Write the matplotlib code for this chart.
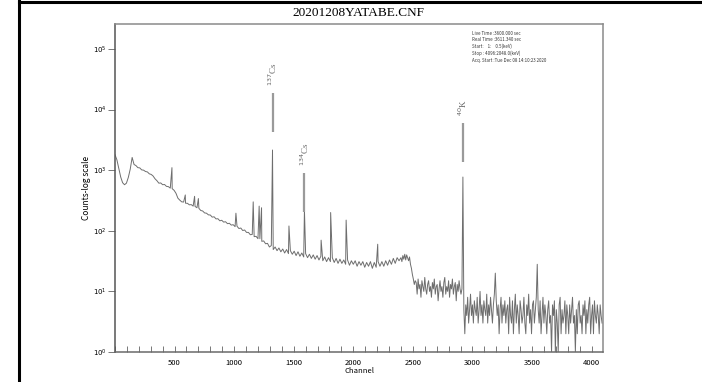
import numpy as np
import matplotlib
matplotlib.use('Agg')
import matplotlib.pyplot as plt
from matplotlib.lines import Line2D
from matplotlib.ticker import FixedLocator, MultipleLocator

plt.rcParams['font.family'] = ['Noto Sans CJK KR', 'DejaVu Sans']

# low channels, 16 channel steps (0 - 2384)
ch_low = np.arange(0, 2400, 16)
counts_low = [
    1800, 1480, 1060, 770, 620, 575, 610, 760, 1040, 1620,
    1240, 1190, 1100, 1090, 1010, 1000, 950, 935, 870, 850,
    800, 720, 670, 610, 615, 575, 580, 540, 535, 505,
    495, 465, 415, 345, 320, 300, 298, 285, 284, 268,
    270, 255, 252, 240, 235, 216, 212, 197, 195, 183,
    182, 168, 170, 157, 158, 146, 149, 139, 141, 131,
    133, 124, 126, 117, 119, 109, 111, 101, 103, 94,
    94, 86, 87, 80, 81, 74, 74, 67, 68, 61,
    62, 54, 57, 49, 54, 47, 52, 45, 50, 43,
    49, 42, 47, 41, 46, 39, 45, 38, 43, 37,
    42, 36, 41, 35, 40, 34, 39, 33, 38, 32,
    37, 31, 36, 31, 36, 30, 35, 29, 34, 29,
    33, 28, 33, 27, 32, 28, 32, 26, 31, 27,
    31, 25, 30, 26, 31, 24, 30, 25, 31, 26,
    31, 26, 32, 27, 33, 28, 35, 29, 36, 32,
]

# photopeaks in the low channel range
peak_ch = [478, 590, 668, 700, 1015, 1160, 1210, 1230, 1322, 1460, 1590, 1730, 1810, 1940, 2205]
peak_counts = [1100, 390, 370, 340, 195, 300, 255, 240, 2150, 120, 225, 70, 200, 150, 60]

# high channels, 8 channel steps (2400 - 4088)
ch_high = np.arange(2400, 4096, 8)
counts_high = [
    36, 31, 39, 34, 41, 33, 40, 36, 32, 37, 28, 24, 19, 16, 13, 15,
    14, 9, 16, 11, 13, 8, 15, 12, 10, 17, 11, 9, 13, 15, 10, 12,
    8, 14, 11, 16, 9, 12, 13, 7, 11, 15, 10, 12, 8, 14, 17, 9,
    12, 10, 15, 8, 13, 11, 16, 9, 12, 14, 7, 13, 10, 15, 11, 9,
    11, 770, 5, 2, 6, 4, 8, 3, 5, 9, 4, 6, 3, 7, 5, 4,
    8, 3, 5, 10, 4, 6, 3, 7, 5, 4, 9, 3, 6, 4, 8, 5,
    3, 6, 9, 20, 7, 4, 6, 2, 5, 8, 3, 6, 4, 7, 3, 5,
    6, 2, 8, 4, 3, 7, 2, 5, 9, 3, 6, 4, 2, 7, 5, 3,
    4, 8, 3, 2, 6, 4, 9, 3, 5, 2, 6, 7, 3, 5, 8, 28,
    5, 3, 7, 2, 4, 8, 3, 6, 4, 2, 5, 7, 3, 4, 1, 6,
    4, 7, 1, 5, 3, 1, 6, 8, 2, 5, 3, 4, 7, 2, 6, 4,
    2, 6, 3, 5, 8, 3, 4, 1, 5, 2, 6, 7, 3, 4, 2, 6,
    4, 7, 2, 5, 3, 6, 8, 2, 4, 6, 2, 7, 4, 3, 6, 4,
    2, 6, 4, 3,
]

# nuclide markers
mark_ch = [1322, 1590, 2920]
mark_lo = [4300, 205, 1380]
mark_hi = [18600, 890, 6000]
mark_text = ['$^{137}$Cs', '$^{134}$Cs', '$^{40}$K']

info_lines = [
    'Live Time :3600.000 sec',
    'Real Time :3611.340 sec',
    'Start:    1:    0.5(keV)',
    'Stop : 4096:2048.0(keV)',
    'Acq. Start :Tue Dec 08 14:10:23 2020',
]

x = np.concatenate([ch_low, peak_ch, ch_high])
y = np.concatenate([counts_low, peak_counts, counts_high])
order = np.argsort(x, kind='stable')
x, y = x[order], y[order]

fig = plt.figure(figsize=(7.02, 3.82), dpi=100)
ax = fig.add_axes([0.1638, 0.0785, 0.6952, 0.8585])

ax.plot(x, y, color='#6e6e6e', lw=0.7)
ax.set_yscale('log')
ax.set_xlim(0, 4096)
ax.set_ylim(1, 10**5.41)

for c, lo, hi, t in zip(mark_ch, mark_lo, mark_hi, mark_text):
    ax.plot([c, c], [lo, hi], color='#9a9a9a', lw=1.6, solid_capstyle='butt')
    ax.annotate(t, (c, hi), xytext=(0, 5), textcoords='offset points',
                rotation=90, ha='center', va='bottom', fontsize=6.5,
                family='Liberation Serif', color='#666666')

for s in ax.spines.values():
    s.set_color('#8a8a8a')
    s.set_linewidth(1.1)
ax.spines['left'].set_color('#555555')
ax.spines['bottom'].set_color('#6a6a6a')

ax.xaxis.set_major_locator(FixedLocator([500, 1000, 1500, 2000, 2500, 3000, 3500, 4000]))
ax.xaxis.set_minor_locator(MultipleLocator(100))
ax.tick_params(axis='x', which='both', direction='in', length=4, width=0.7,
               color='#777777', labelsize=5.5, pad=5)
ax.yaxis.set_major_locator(FixedLocator([10**k for k in range(6)]))
ax.yaxis.set_minor_locator(FixedLocator([]))
ax.set_yticklabels(['$10^{%d}$' % k for k in range(6)])
ax.tick_params(axis='y', which='major', direction='out', length=5, width=0.7,
               color='#777777', labelsize=5, pad=1)

ax.set_xlabel('Channel', fontsize=5.5, labelpad=0)
ax.set_ylabel('Counts-log scale', fontsize=6, labelpad=1)

fig.text(0.511, 1 - 13 / 382, '20201208YATABE.CNF', ha='center', va='center',
         fontsize=9.5, family='Liberation Serif')
fig.text(472 / 702, 1 - 31 / 382, '\n'.join(info_lines), ha='left', va='top',
         fontsize=3.2, linespacing=1.35, color='#333333')

# black frame on the left and top edges
fig.add_artist(Line2D([19 / 702, 19 / 702], [0, 1], color='black', lw=2.2,
                      transform=fig.transFigure))
fig.add_artist(Line2D([19 / 702, 1], [1 - 1.5 / 382, 1 - 1.5 / 382], color='black', lw=2.2,
                      transform=fig.transFigure))

fig.savefig('out.png', dpi=100)
